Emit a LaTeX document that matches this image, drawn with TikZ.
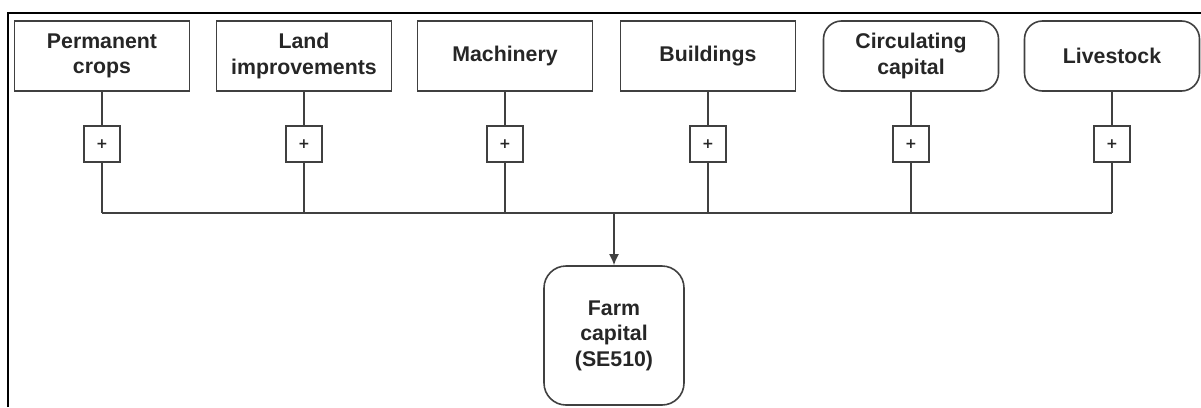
\documentclass[tikz,border=0pt]{standalone}
\usepackage{fontspec}
\setmainfont{Liberation Sans}
\newfontfamily\plusfont{DejaVu Sans}
\usetikzlibrary{arrows.meta}

\definecolor{inkline}{gray}{0.25}
\definecolor{inktext}{gray}{0.15}

\tikzset{
  labelfont/.style={font=\bfseries\fontsize{21.3}{25.5}\selectfont, text=inktext},
  itembox/.style={draw=inkline, line width=1.6pt, minimum width=175pt, minimum height=70pt,
                  inner sep=0pt, align=center, labelfont},
  rounditem/.style={itembox, rounded corners=18pt},
  plusbox/.style={draw=inkline, line width=1.6pt, minimum width=36pt, minimum height=36pt,
                  inner sep=0pt, font=\plusfont\bfseries\fontsize{14}{14}\selectfont, text=inktext},
  link/.style={draw=inkline, line width=1.6pt},
}

\begin{document}
\begin{tikzpicture}[x=1pt, y=-1pt]
\useasboundingbox (0,0) rectangle (1201,407);

% frame along the left and top edges
\draw[line width=2.4pt, black] (8,407) -- (8,13) -- (1201,13);

% capital components
\node[itembox]   (pc) at (102,56)  {Permanent\\crops};
\node[itembox]   (li) at (304,56)  {Land\\improvements};
\node[itembox]   (ma) at (505,56)  {Machinery};
\node[itembox]   (bu) at (708,56)  {Buildings};
\node[rounditem] (cc) at (911,56)  {Circulating\\capital};
\node[rounditem] (lv) at (1112,56) {Livestock};

% summation markers
\node[plusbox] (p1) at (102,144)  {+};
\node[plusbox] (p2) at (304,144)  {+};
\node[plusbox] (p3) at (505,144)  {+};
\node[plusbox] (p4) at (708,144)  {+};
\node[plusbox] (p5) at (911,144)  {+};
\node[plusbox] (p6) at (1112,144) {+};

% total
\node[itembox, rounded corners=22pt, minimum width=140pt, minimum height=139pt] (farm) at (614,335.5)
  {Farm\\capital\\(SE510)};

% junctions on the collecting line
\coordinate (j1) at (102,213);
\coordinate (j2) at (304,213);
\coordinate (j3) at (505,213);
\coordinate (j4) at (708,213);
\coordinate (j5) at (911,213);
\coordinate (j6) at (1112,213);
\coordinate (jf) at (614,213);

\draw[link] (pc) -- (p1);
\draw[link] (li) -- (p2);
\draw[link] (ma) -- (p3);
\draw[link] (bu) -- (p4);
\draw[link] (cc) -- (p5);
\draw[link] (lv) -- (p6);

\draw[link] (p1) -- (j1);
\draw[link] (p2) -- (j2);
\draw[link] (p3) -- (j3);
\draw[link] (p4) -- (j4);
\draw[link] (p5) -- (j5);
\draw[link] (p6) -- (j6);

\draw[link, line join=miter] (j1) -- (j6);
\draw[link, -{Latex[length=11pt, width=10pt]}] (jf) -- (farm);
\end{tikzpicture}
\end{document}
